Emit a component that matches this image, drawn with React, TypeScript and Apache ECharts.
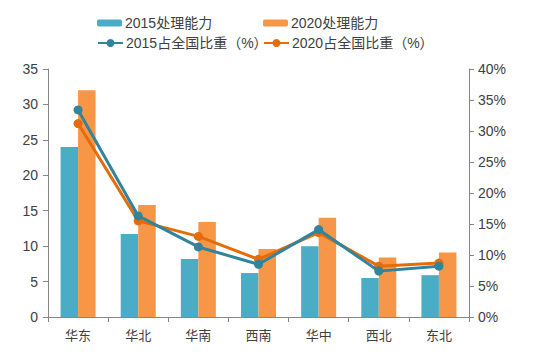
import React, { useEffect, useRef } from "react";
import * as echarts from "echarts";

const categories = ["华东", "华北", "华南", "西南", "华中", "西北", "东北"];
const capacity2015 = [24, 11.7, 8.2, 6.2, 10.0, 5.5, 5.9];
const capacity2020 = [32, 15.8, 13.4, 9.6, 14.0, 8.4, 9.1];
const share2015 = [33.4, 16.3, 11.3, 8.5, 14.1, 7.4, 8.2];
const share2020 = [31.2, 15.5, 13.0, 9.3, 13.6, 8.2, 8.7];

const FONT = '"Liberation Sans", "Noto Sans CJK SC", sans-serif';

export default function App() {
  const ref = useRef<HTMLDivElement>(null);
  useEffect(() => {
    if (!ref.current) return;
    const chart = echarts.init(ref.current, undefined, { renderer: "svg" });
    const legendText = { fontSize: 14, color: "#404040", fontFamily: FONT };
    const mkLegend = (name: string, left: number, top: number, isLine: boolean) => ({
      data: [name],
      left,
      top,
      itemWidth: 25,
      itemHeight: isLine ? 10 : 7,
      itemGap: 0,
      textStyle: { ...legendText, padding: [0, 0, 0, -2] },
      selectedMode: false,
      padding: 0,
    });
    chart.setOption({
      animation: false,
      backgroundColor: "#ffffff",
      legend: [
        mkLegend("2015处理能力", 97, 16, false),
        mkLegend("2020处理能力", 263, 16, false),
        mkLegend("2015占全国比重（%）", 97, 36, true),
        mkLegend("2020占全国比重（%）", 263, 36, true),
      ],
      grid: { left: 48, right: 66, top: 69, bottom: 44, containLabel: false },
      xAxis: {
        type: "category",
        data: categories,
        axisLine: { lineStyle: { color: "#868686", width: 1 } },
        axisTick: { show: true, length: 5, lineStyle: { color: "#868686" } },
        axisLabel: { fontSize: 13, color: "#404040", fontFamily: FONT, margin: 12 },
      },
      yAxis: [
        {
          type: "value",
          min: 0,
          max: 35,
          interval: 5,
          axisLine: { show: true, lineStyle: { color: "#868686" } },
          axisTick: { show: true, length: 5, lineStyle: { color: "#868686" } },
          splitLine: { show: false },
          axisLabel: { fontSize: 14, color: "#404040", fontFamily: FONT, margin: 10 },
        },
        {
          type: "value",
          min: 0,
          max: 40,
          interval: 5,
          position: "right",
          axisLine: { show: true, lineStyle: { color: "#868686" } },
          axisTick: { show: true, length: 5, lineStyle: { color: "#868686" } },
          splitLine: { show: false },
          axisLabel: {
            fontSize: 14,
            color: "#404040",
            fontFamily: FONT,
            margin: 9,
            formatter: "{value}%",
          },
        },
      ],
      series: [
        {
          name: "2015处理能力",
          type: "bar",
          data: capacity2015,
          barWidth: 17.5,
          barGap: "0%",
          itemStyle: { color: "#4BACC6" },
        },
        {
          name: "2020处理能力",
          type: "bar",
          data: capacity2020,
          barWidth: 17.5,
          barGap: "0%",
          itemStyle: { color: "#F79646" },
        },
        {
          name: "2015占全国比重（%）",
          type: "line",
          yAxisIndex: 1,
          data: share2015,
          symbol: "circle",
          symbolSize: 9,
          lineStyle: { color: "#31849B", width: 3 },
          itemStyle: { color: "#31849B" },
          z: 5,
        },
        {
          name: "2020占全国比重（%）",
          type: "line",
          yAxisIndex: 1,
          data: share2020,
          symbol: "circle",
          symbolSize: 9,
          lineStyle: { color: "#E46C0A", width: 3 },
          itemStyle: { color: "#E46C0A" },
          z: 4,
        },
      ],
    });
    return () => chart.dispose();
  }, []);
  return <div ref={ref} style={{ width: 535, height: 361, position: "absolute", left: 0, top: 0 }} />;
}
